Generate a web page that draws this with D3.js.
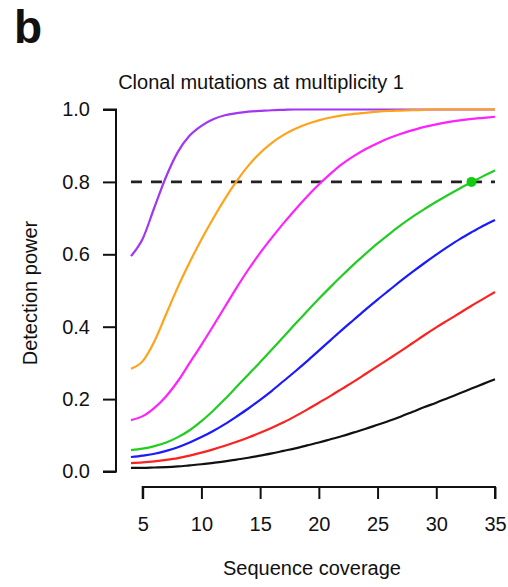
<!DOCTYPE html>
<html>
<head>
<meta charset="utf-8">
<script src="https://cdn.jsdelivr.net/npm/d3@7"></script>
<style>
  body { margin: 0; background: #fff; }
  text { font-family: "Liberation Sans", Arial, sans-serif; fill: #111; }
</style>
</head>
<body>
<svg id="canvas" width="508" height="587"></svg>
<script>
// sequence coverage 4..35, one reading per integer coverage
let coverage = [4, 5, 6, 7, 8, 9, 10, 11, 12, 13, 14, 15, 16, 17, 18, 19, 20, 21, 22, 23, 24, 25, 26, 27, 28, 29, 30, 31, 32, 33, 34, 35]

let purplePower  = [0.595, 0.643, 0.73, 0.815, 0.883, 0.928, 0.955, 0.973, 0.984, 0.99, 0.994, 0.996, 0.998, 0.999, 1, 1, 1, 1, 1, 1, 1, 1, 1, 1, 1, 1, 1, 1, 1, 1, 1, 1]
let orangePower  = [0.284, 0.305, 0.36, 0.435, 0.51, 0.578, 0.641, 0.699, 0.753, 0.802, 0.845, 0.88, 0.908, 0.93, 0.947, 0.96, 0.97, 0.978, 0.984, 0.988, 0.991, 0.994, 0.996, 0.997, 0.998, 0.999, 1, 1, 1, 1, 1, 1]
let magentaPower = [0.142, 0.153, 0.176, 0.208, 0.25, 0.3, 0.35, 0.402, 0.455, 0.508, 0.558, 0.604, 0.646, 0.686, 0.724, 0.76, 0.793, 0.823, 0.85, 0.872, 0.891, 0.907, 0.921, 0.933, 0.943, 0.952, 0.959, 0.965, 0.97, 0.974, 0.977, 0.98]
let greenPower   = [0.059, 0.063, 0.07, 0.08, 0.095, 0.114, 0.139, 0.168, 0.2, 0.234, 0.268, 0.302, 0.337, 0.372, 0.408, 0.443, 0.477, 0.51, 0.542, 0.573, 0.602, 0.63, 0.656, 0.681, 0.704, 0.725, 0.745, 0.764, 0.782, 0.799, 0.816, 0.832]
let bluePower    = [0.04, 0.044, 0.049, 0.057, 0.067, 0.08, 0.095, 0.112, 0.131, 0.152, 0.174, 0.198, 0.223, 0.25, 0.277, 0.305, 0.334, 0.363, 0.392, 0.42, 0.448, 0.475, 0.501, 0.527, 0.552, 0.576, 0.599, 0.621, 0.642, 0.661, 0.679, 0.695]
let redPower     = [0.023, 0.025, 0.028, 0.032, 0.037, 0.044, 0.052, 0.061, 0.071, 0.082, 0.094, 0.107, 0.121, 0.136, 0.153, 0.171, 0.19, 0.209, 0.229, 0.249, 0.27, 0.291, 0.312, 0.333, 0.355, 0.377, 0.398, 0.418, 0.438, 0.458, 0.477, 0.496]
let blackPower   = [0.01, 0.01, 0.011, 0.012, 0.014, 0.017, 0.02, 0.024, 0.028, 0.033, 0.038, 0.044, 0.05, 0.057, 0.064, 0.072, 0.08, 0.089, 0.098, 0.108, 0.118, 0.129, 0.14, 0.152, 0.165, 0.178, 0.19, 0.203, 0.216, 0.229, 0.242, 0.255]

let seriesColors = ['#a236f2', '#ffa31a', '#ff22ff', '#22cc22', '#1a1aff', '#ff2020', '#111111']
let allSeries = [purplePower, orangePower, magentaPower, greenPower, bluePower, redPower, blackPower]

let xTicks = [5, 10, 15, 20, 25, 30, 35]
let yTicks = [0, 0.2, 0.4, 0.6, 0.8, 1.0]

let threshold = 0.8
let markedPoint = { coverage: 33, power: 0.8 }

let canvas = d3.select('#canvas')

let xScale = d3.scaleLinear().domain([5, 35]).range([142.7, 495])
let yScale = d3.scaleLinear().domain([0, 1]).range([471.5, 109.5])

// panel letter and title
canvas.append('text')
      .attr('x', 14).attr('y', 43)
      .style('font-size', '46px').style('font-weight', 'bold')
      .text('b')

canvas.append('text')
      .attr('x', 261).attr('y', 89)
      .attr('text-anchor', 'middle')
      .style('font-size', '20px')
      .text('Clonal mutations at multiplicity 1')

// y axis
let yAxis = d3.axisLeft(yScale)
              .tickValues(yTicks)
              .tickFormat(d3.format('.1f'))
              .tickSize(13)
              .tickPadding(13)
let yG = canvas.append('g').attr('transform', 'translate(116,0)').call(yAxis)

// x axis
let xAxis = d3.axisBottom(xScale)
              .tickValues(xTicks)
              .tickSize(12)
              .tickPadding(18)
let xG = canvas.append('g').attr('transform', 'translate(0,487)').call(xAxis)

let styleAxis = (g) => {
    g.select('.domain').attr('stroke', '#111').attr('stroke-width', 2)
    g.selectAll('.tick line').attr('stroke', '#111').attr('stroke-width', 2)
    g.selectAll('.tick text')
     .style('font-size', '20px')
     .style('font-family', '"Liberation Sans", Arial, sans-serif')
     .attr('fill', '#111')
}
styleAxis(yG)
styleAxis(xG)
// R style axes: domain without end caps
yG.select('.domain').attr('d', 'M-13,' + yScale(1) + 'H0V' + yScale(0) + 'H-13')
xG.select('.domain').attr('d', 'M' + xScale(5) + ',12V0H' + xScale(35) + 'V12')

canvas.append('text')
      .attr('x', 312).attr('y', 575)
      .attr('text-anchor', 'middle')
      .style('font-size', '20px')
      .text('Sequence coverage')

canvas.append('text')
      .attr('transform', 'translate(37,293) rotate(-90)')
      .attr('text-anchor', 'middle')
      .style('font-size', '20px')
      .text('Detection power')

// threshold line
canvas.append('line')
      .attr('x1', xScale(4)).attr('x2', xScale(35))
      .attr('y1', yScale(threshold)).attr('y2', yScale(threshold))
      .attr('stroke', '#222')
      .attr('stroke-width', 2.6)
      .attr('stroke-dasharray', '11,9')

// curves
let line = d3.line()
             .x((d, i) => xScale(coverage[i]))
             .y((d) => yScale(d))
             .curve(d3.curveMonotoneX)

canvas.selectAll('path.curve')
      .data(allSeries)
      .enter()
      .append('path')
      .attr('class', 'curve')
      .attr('d', (d) => line(d))
      .attr('fill', 'none')
      .attr('stroke', (d, i) => seriesColors[i])
      .attr('stroke-width', 2.2)

canvas.append('circle')
      .attr('cx', xScale(markedPoint.coverage))
      .attr('cy', yScale(markedPoint.power))
      .attr('r', 5)
      .attr('fill', '#11cc11')
</script>
</body>
</html>
